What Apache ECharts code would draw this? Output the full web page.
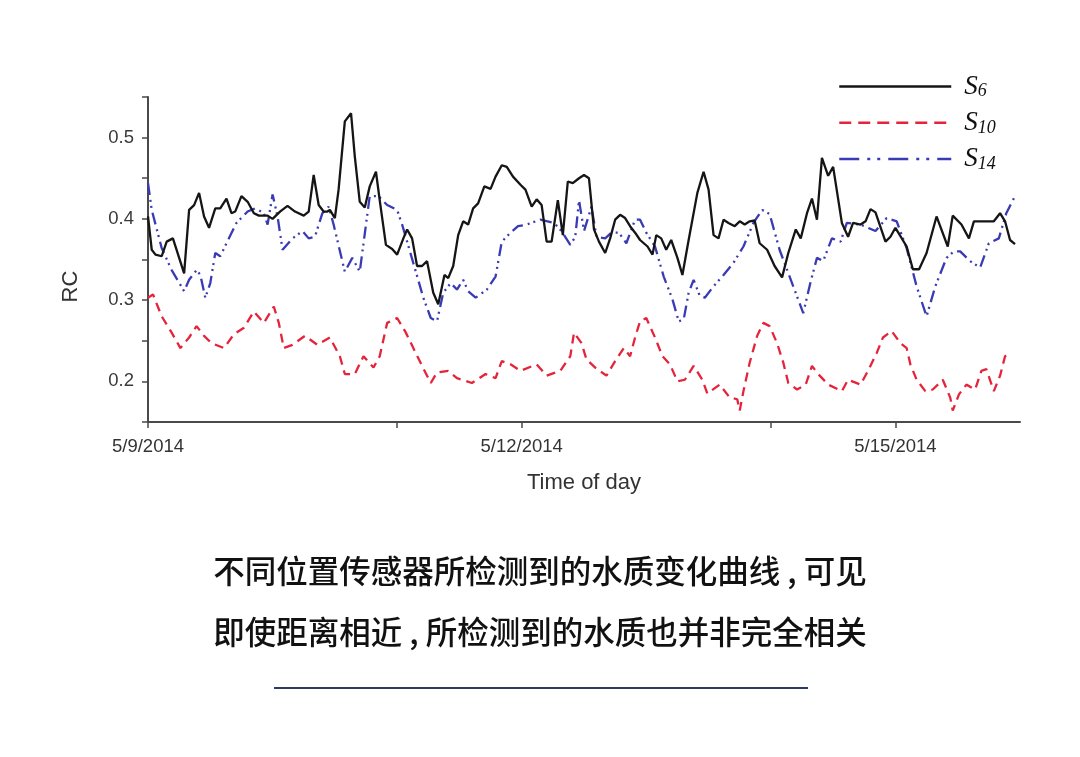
<!DOCTYPE html>
<html>
<head>
<meta charset="utf-8">
<script src="https://cdn.jsdelivr.net/npm/echarts@6/dist/echarts.min.js"></script>
<style>
  html, body { margin: 0; padding: 0; background: #ffffff; }
  #chart { width: 1080px; height: 757px; }
</style>
</head>
<body>
<div id="chart"></div>
<script>
// ---- data (x = days since 5/9/2014 00:00, y = RC) ----
const seriesNames = ['S6', 'S10', 'S14'];
const subscripts = ['6', '10', '14'];

const s6 = [[0.00,0.403],[0.03,0.362],[0.06,0.356],[0.11,0.354],[0.15,0.372],[0.20,0.376],[0.29,0.333],[0.33,0.411],[0.37,0.417],[0.41,0.432],[0.45,0.403],[0.49,0.389],[0.54,0.413],[0.58,0.413],[0.63,0.425],[0.67,0.407],[0.70,0.409],[0.75,0.428],[0.80,0.421],[0.85,0.407],[0.89,0.404],[0.96,0.404],[1.00,0.400],[1.06,0.409],[1.12,0.416],[1.18,0.409],[1.25,0.404],[1.29,0.409],[1.33,0.454],[1.37,0.417],[1.41,0.409],[1.44,0.409],[1.46,0.411],[1.50,0.401],[1.53,0.436],[1.58,0.520],[1.63,0.530],[1.66,0.477],[1.70,0.421],[1.74,0.414],[1.78,0.440],[1.83,0.458],[1.86,0.423],[1.91,0.368],[1.96,0.363],[2.00,0.356],[2.05,0.376],[2.08,0.387],[2.12,0.376],[2.16,0.342],[2.20,0.342],[2.24,0.348],[2.29,0.309],[2.33,0.295],[2.38,0.331],[2.41,0.327],[2.45,0.342],[2.49,0.380],[2.53,0.397],[2.57,0.393],[2.61,0.413],[2.65,0.419],[2.70,0.440],[2.75,0.437],[2.79,0.452],[2.84,0.466],[2.88,0.464],[2.93,0.452],[2.99,0.442],[3.03,0.436],[3.08,0.415],[3.12,0.424],[3.16,0.417],[3.20,0.372],[3.24,0.372],[3.29,0.423],[3.33,0.380],[3.37,0.446],[3.41,0.444],[3.46,0.450],[3.50,0.454],[3.54,0.450],[3.58,0.387],[3.62,0.372],[3.67,0.358],[3.71,0.376],[3.75,0.399],[3.79,0.405],[3.83,0.401],[3.87,0.391],[3.91,0.383],[3.95,0.374],[4.01,0.366],[4.05,0.356],[4.08,0.380],[4.12,0.376],[4.16,0.362],[4.20,0.374],[4.25,0.352],[4.29,0.331],[4.34,0.374],[4.41,0.432],[4.46,0.458],[4.50,0.436],[4.54,0.380],[4.58,0.376],[4.62,0.399],[4.66,0.395],[4.71,0.391],[4.75,0.397],[4.79,0.393],[4.83,0.397],[4.87,0.398],[4.91,0.370],[4.97,0.362],[5.03,0.342],[5.09,0.328],[5.14,0.358],[5.20,0.387],[5.24,0.376],[5.29,0.407],[5.33,0.425],[5.37,0.399],[5.41,0.475],[5.46,0.453],[5.50,0.464],[5.57,0.395],[5.62,0.378],[5.66,0.395],[5.72,0.393],[5.76,0.397],[5.80,0.412],[5.84,0.408],[5.92,0.372],[5.96,0.378],[6.00,0.389],[6.09,0.366],[6.14,0.338],[6.19,0.338],[6.25,0.358],[6.33,0.403],[6.42,0.366],[6.46,0.404],[6.53,0.393],[6.59,0.376],[6.63,0.397],[6.69,0.397],[6.79,0.397],[6.84,0.407],[6.88,0.397],[6.92,0.374],[6.96,0.369]];

const s10 = [[0.00,0.303],[0.04,0.307],[0.11,0.280],[0.19,0.260],[0.26,0.241],[0.33,0.254],[0.39,0.268],[0.45,0.256],[0.51,0.247],[0.61,0.241],[0.69,0.258],[0.77,0.266],[0.85,0.286],[0.93,0.272],[1.01,0.292],[1.05,0.272],[1.09,0.241],[1.16,0.245],[1.26,0.256],[1.36,0.245],[1.46,0.254],[1.54,0.231],[1.58,0.209],[1.66,0.209],[1.73,0.231],[1.81,0.217],[1.86,0.231],[1.92,0.272],[2.00,0.278],[2.07,0.260],[2.13,0.241],[2.20,0.219],[2.27,0.198],[2.32,0.211],[2.41,0.213],[2.48,0.204],[2.60,0.198],[2.71,0.209],[2.79,0.204],[2.84,0.225],[2.91,0.221],[2.99,0.213],[3.12,0.221],[3.20,0.207],[3.31,0.213],[3.39,0.231],[3.42,0.260],[3.48,0.247],[3.52,0.227],[3.59,0.217],[3.68,0.207],[3.75,0.225],[3.82,0.241],[3.87,0.231],[3.91,0.254],[3.95,0.274],[4.00,0.278],[4.07,0.254],[4.13,0.231],[4.19,0.221],[4.25,0.200],[4.31,0.202],[4.38,0.219],[4.45,0.202],[4.49,0.185],[4.59,0.196],[4.67,0.180],[4.73,0.178],[4.75,0.164],[4.78,0.188],[4.83,0.223],[4.89,0.256],[4.94,0.272],[4.99,0.268],[5.05,0.247],[5.10,0.223],[5.14,0.198],[5.21,0.190],[5.28,0.196],[5.33,0.219],[5.38,0.209],[5.46,0.196],[5.57,0.188],[5.62,0.202],[5.72,0.196],[5.78,0.213],[5.85,0.235],[5.90,0.254],[5.97,0.262],[6.04,0.247],[6.09,0.241],[6.12,0.221],[6.17,0.202],[6.24,0.188],[6.30,0.190],[6.38,0.202],[6.44,0.180],[6.46,0.164],[6.51,0.184],[6.57,0.196],[6.64,0.190],[6.69,0.213],[6.73,0.215],[6.79,0.188],[6.84,0.207],[6.88,0.231],[6.93,0.235]];

const s14 = [[0.00,0.444],[0.03,0.411],[0.11,0.364],[0.19,0.337],[0.29,0.311],[0.33,0.325],[0.39,0.337],[0.42,0.331],[0.46,0.303],[0.50,0.321],[0.54,0.358],[0.58,0.354],[0.63,0.370],[0.71,0.395],[0.80,0.409],[0.86,0.413],[0.93,0.407],[0.96,0.393],[1.00,0.430],[1.04,0.403],[1.08,0.362],[1.16,0.376],[1.24,0.385],[1.29,0.376],[1.34,0.378],[1.40,0.407],[1.45,0.415],[1.49,0.393],[1.58,0.335],[1.64,0.352],[1.70,0.335],[1.78,0.428],[1.85,0.428],[1.92,0.417],[2.00,0.411],[2.04,0.393],[2.08,0.372],[2.15,0.335],[2.21,0.303],[2.27,0.278],[2.32,0.274],[2.37,0.309],[2.43,0.321],[2.48,0.313],[2.53,0.325],[2.57,0.311],[2.63,0.303],[2.72,0.313],[2.79,0.329],[2.84,0.372],[2.91,0.383],[2.97,0.391],[3.04,0.393],[3.15,0.399],[3.26,0.395],[3.32,0.385],[3.39,0.368],[3.43,0.378],[3.46,0.423],[3.50,0.385],[3.56,0.415],[3.60,0.378],[3.67,0.376],[3.72,0.383],[3.78,0.383],[3.84,0.370],[3.91,0.399],[3.95,0.399],[4.00,0.383],[4.07,0.366],[4.14,0.329],[4.21,0.301],[4.26,0.274],[4.30,0.276],[4.34,0.309],[4.38,0.325],[4.43,0.305],[4.47,0.303],[4.54,0.317],[4.62,0.331],[4.70,0.346],[4.78,0.366],[4.86,0.395],[4.93,0.411],[4.99,0.406],[5.07,0.362],[5.17,0.321],[5.26,0.284],[5.32,0.323],[5.37,0.352],[5.42,0.348],[5.49,0.376],[5.56,0.372],[5.61,0.395],[5.72,0.393],[5.84,0.385],[5.93,0.401],[6.01,0.397],[6.09,0.364],[6.17,0.317],[6.25,0.280],[6.32,0.317],[6.41,0.352],[6.47,0.360],[6.52,0.360],[6.60,0.348],[6.68,0.340],[6.75,0.370],[6.83,0.376],[6.89,0.407],[6.96,0.428]];

// axis ticks / labels
const xTickDays = [0, 2, 3, 5, 6];
const xLabelDays = [0, 3, 6];
const xLabels = ['5/9/2014', '5/12/2014', '5/15/2014'];
const yLabelValues = [0.2, 0.3, 0.4, 0.5];

const captionLines = ['不同位置传感器所检测到的水质变化曲线 , 可见', '即使距离相近 , 所检测到的水质也并非完全相关'];

// ---- chart ----
const chart = echarts.init(document.getElementById('chart'), null, { renderer: 'canvas' });

const axisColor = '#4a4a4a';
const labelFont = '"Liberation Sans", Arial, sans-serif';
const serifFont = '"Liberation Serif", "DejaVu Serif", serif';

const option = {
  backgroundColor: '#ffffff',
  animation: false,
  grid: { left: 148, right: 60, top: 97, bottom: 335, containLabel: false },
  legend: {
    orient: 'vertical',
    left: 838,
    top: 73,
    padding: 0,
    itemWidth: 112,
    itemHeight: 28,
    itemGap: 8.8,
    selectedMode: false,
    itemStyle: { opacity: 0 },
    data: [
      { name: seriesNames[0], lineStyle: { type: 'solid', width: 2.5 } },
      { name: seriesNames[1], lineStyle: { type: [12, 7], width: 2.5 } },
      { name: seriesNames[2], lineStyle: { type: [20, 8, 3, 7, 3, 8], width: 2.5 } }
    ],
    formatter: function (name) {
      const i = seriesNames.indexOf(name);
      return '{s|S}{sub|' + subscripts[i] + '}';
    },
    textStyle: {
      rich: {
        s: { fontFamily: serifFont, fontStyle: 'italic', fontSize: 27, lineHeight: 28, color: '#111', padding: [0, 0, 0, 8] },
        sub: { fontFamily: serifFont, fontStyle: 'italic', fontSize: 18, lineHeight: 15, verticalAlign: 'bottom', color: '#111' }
      }
    }
  },
  xAxis: {
    type: 'value',
    min: 0,
    max: 7,
    interval: 1,
    name: 'Time of day',
    nameLocation: 'middle',
    nameGap: 50,
    nameTextStyle: { fontFamily: labelFont, fontSize: 22, color: '#333' },
    axisLine: { show: true, lineStyle: { color: axisColor, width: 2 } },
    axisTick: { show: true, customValues: xTickDays, length: 6, lineStyle: { color: axisColor, width: 1.5 } },
    axisLabel: {
      customValues: xLabelDays,
      margin: 15,
      fontFamily: labelFont,
      fontSize: 18.5,
      color: '#333',
      formatter: function (v) {
        const i = xLabelDays.indexOf(Math.round(v));
        return i >= 0 ? xLabels[i] : '';
      }
    },
    splitLine: { show: false }
  },
  yAxis: {
    type: 'value',
    min: 0.15,
    max: 0.55,
    interval: 0.05,
    name: 'RC',
    nameLocation: 'middle',
    nameRotate: 90,
    nameGap: 66,
    nameTextStyle: { fontFamily: labelFont, fontSize: 22, color: '#333', padding: [0, 54, 0, 0] },
    axisLine: { show: true, lineStyle: { color: axisColor, width: 2 } },
    axisTick: { show: true, length: 6, lineStyle: { color: axisColor, width: 1.5 } },
    axisLabel: {
      customValues: yLabelValues,
      margin: 14,
      fontFamily: labelFont,
      fontSize: 18.5,
      color: '#3a3a3a',
      formatter: function (v) { return v.toFixed(1); }
    },
    splitLine: { show: false }
  },
  series: [
    {
      name: seriesNames[0], type: 'line', data: s6, symbol: 'none', showSymbol: false,
      lineStyle: { color: '#151515', width: 2.3, type: 'solid' }, itemStyle: { color: '#151515' }, z: 4
    },
    {
      name: seriesNames[1], type: 'line', data: s10, symbol: 'none', showSymbol: false,
      lineStyle: { color: '#e5243b', width: 2.3, type: [9, 6] }, itemStyle: { color: '#e5243b' }, z: 2
    },
    {
      name: seriesNames[2], type: 'line', data: s14, symbol: 'none', showSymbol: false,
      lineStyle: { color: '#3a3ab4', width: 2.3, type: [12, 5, 2, 4, 2, 5] }, itemStyle: { color: '#3a3ab4' }, z: 3
    }
  ],
  graphic: [
    {
      type: 'text', left: 'center', top: 555,
      style: { text: captionLines[0], fontFamily: '"Noto Sans CJK SC", sans-serif', fontSize: 31.5, fontWeight: 500, fill: '#111' }
    },
    {
      type: 'text', left: 'center', top: 616,
      style: { text: captionLines[1], fontFamily: '"Noto Sans CJK SC", sans-serif', fontSize: 31.5, fontWeight: 500, fill: '#111' }
    },
    {
      type: 'line', shape: { x1: 274, y1: 688, x2: 808, y2: 688 },
      style: { stroke: '#2e3a66', lineWidth: 2 }
    }
  ]
};

chart.setOption(option);
</script>
</body>
</html>
